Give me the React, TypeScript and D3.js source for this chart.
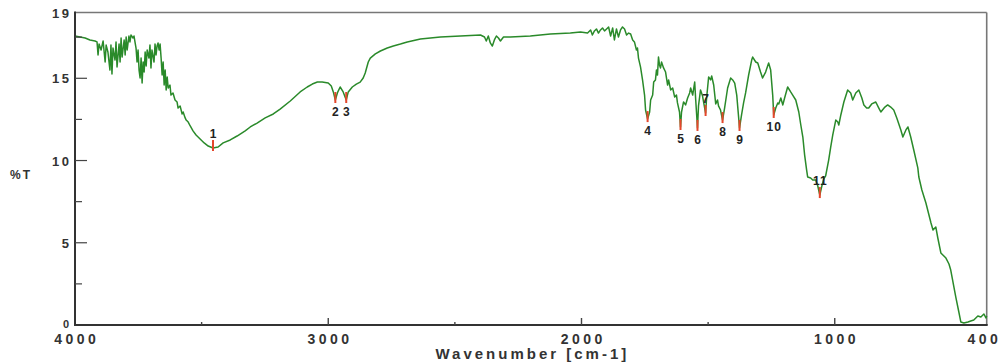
import React from "react";
import * as d3 from "d3";

// Wavenumber (cm-1) and %T
const wavenumbers = [
  4000, 3980, 3960, 3941, 3921, 3913, 3909, 3905, 3897, 3889, 3881, 3877, 3870, 3862, 3858, 3854, 3850, 3842, 3838, 3834,
  3826, 3822, 3818, 3814, 3806, 3802, 3798, 3794, 3787, 3783, 3779, 3771, 3767, 3759, 3755, 3751, 3747, 3743, 3739, 3735,
  3731, 3727, 3723, 3719, 3715, 3708, 3704, 3700, 3696, 3688, 3684, 3680, 3676, 3672, 3668, 3664, 3660, 3656, 3652, 3648,
  3644, 3640, 3636, 3632, 3625, 3621, 3613, 3605, 3597, 3593, 3585, 3577, 3573, 3565, 3561, 3553, 3545, 3534, 3522, 3506,
  3490, 3474, 3455, 3435, 3415, 3387, 3360, 3328, 3308, 3281, 3249, 3217, 3190, 3150, 3111, 3083, 3063, 3043, 3024, 3000,
  2988, 2980, 2972, 2964, 2953, 2941, 2929, 2921, 2905, 2889, 2874, 2862, 2854, 2842, 2834, 2814, 2794, 2767, 2743, 2715,
  2688, 2636, 2557, 2478, 2399, 2383, 2376, 2368, 2360, 2352, 2344, 2336, 2328, 2320, 2308, 2281, 2202, 2123, 2044, 2004,
  1976, 1964, 1957, 1949, 1941, 1933, 1925, 1917, 1909, 1901, 1893, 1885, 1877, 1870, 1862, 1854, 1846, 1838, 1830, 1822,
  1814, 1806, 1798, 1791, 1783, 1779, 1775, 1767, 1759, 1751, 1747, 1739, 1731, 1727, 1719, 1715, 1708, 1704, 1700, 1696,
  1692, 1688, 1684, 1676, 1668, 1660, 1656, 1648, 1640, 1632, 1625, 1621, 1613, 1609, 1605, 1597, 1589, 1581, 1573, 1569,
  1561, 1553, 1549, 1542, 1538, 1530, 1522, 1518, 1510, 1506, 1498, 1490, 1486, 1478, 1470, 1463, 1459, 1451, 1443, 1435,
  1423, 1411, 1403, 1395, 1387, 1376, 1368, 1360, 1352, 1340, 1328, 1324, 1312, 1304, 1293, 1285, 1273, 1261, 1253, 1245,
  1241, 1233, 1225, 1221, 1213, 1205, 1198, 1186, 1174, 1166, 1154, 1142, 1134, 1126, 1119, 1111, 1107, 1095, 1087, 1075,
  1067, 1059, 1051, 1043, 1036, 1024, 1016, 1008, 996, 988, 984, 976, 964, 949, 937, 929, 917, 905, 893, 885,
  874, 866, 854, 838, 826, 818, 802, 791, 779, 767, 755, 739, 731, 719, 711, 700, 688, 672, 668, 656,
  640, 620, 612, 601, 593, 581, 561, 549, 542, 522, 510, 502, 490, 474, 463, 451, 443, 435, 423, 411,
  403, 400,
];

const transmittance = [
  17.57, 17.51, 17.45, 17.33, 17.27, 17.21, 16.42, 17.08, 16.72, 17.27, 15.99, 17.02, 16.6, 15.5, 17.02, 15.26, 16.84, 16.11, 17.21, 15.69,
  17.08, 15.99, 17.45, 16.29, 17.33, 16.42, 17.51, 16.72, 17.57, 17.21, 17.63, 17.45, 17.57, 16.84, 15.99, 16.72, 15.5, 15.02, 16.23, 14.71,
  15.99, 15.38, 16.6, 15.75, 16.72, 16.23, 17.02, 15.63, 16.72, 15.99, 17.08, 16.42, 16.96, 17.15, 16.72, 17.08, 16.23, 15.2, 15.99, 14.59,
  15.5, 14.29, 15.08, 14.41, 14.59, 13.98, 14.11, 13.68, 13.56, 13.19, 13.32, 12.83, 12.95, 12.59, 12.46, 12.34, 12.1, 11.8, 11.55, 11.31,
  11.07, 10.88, 10.76, 10.82, 11.07, 11.25, 11.49, 11.8, 12.04, 12.28, 12.59, 12.83, 13.13, 13.62, 14.17, 14.47, 14.65, 14.77, 14.77, 14.71,
  14.53, 14.17, 13.68, 14.11, 14.47, 14.17, 13.68, 14.17, 14.47, 14.65, 14.77, 15.02, 15.32, 15.99, 16.23, 16.48, 16.66, 16.84, 16.96, 17.08,
  17.21, 17.39, 17.51, 17.57, 17.63, 17.51, 17.27, 17.57, 17.15, 16.96, 17.33, 17.57, 17.45, 17.27, 17.51, 17.51, 17.57, 17.69, 17.75, 17.81,
  17.75, 17.94, 17.63, 17.88, 18.0, 17.75, 17.94, 18.06, 17.88, 18.0, 18.12, 17.57, 18.06, 17.33, 18.0, 17.51, 17.94, 18.12, 18.0, 17.63,
  17.75, 17.69, 17.33, 17.21, 16.72, 16.84, 16.23, 15.69, 14.9, 13.98, 13.07, 12.52, 12.95, 13.68, 13.98, 14.77, 14.9, 15.5, 15.2, 16.29,
  15.81, 15.63, 15.99, 15.63, 15.38, 14.59, 14.9, 14.29, 14.41, 13.86, 13.98, 13.5, 12.95, 12.04, 12.95, 13.56, 13.38, 13.8, 14.11, 14.41,
  13.98, 14.77, 13.68, 11.98, 13.32, 14.29, 13.92, 13.56, 12.89, 13.8, 15.08, 14.9, 15.14, 14.59, 13.44, 13.68, 13.32, 13.07, 12.46, 13.19,
  14.41, 15.02, 14.9, 14.71, 13.98, 11.98, 12.77, 13.5, 14.11, 15.2, 16.11, 16.29, 15.99, 15.93, 15.38, 15.02, 15.38, 15.93, 15.5, 13.98,
  12.77, 13.19, 13.5, 13.44, 13.8, 13.38, 13.8, 14.47, 14.17, 13.98, 13.68, 12.95, 12.16, 11.43, 10.34, 9.42, 9.0, 8.94, 8.82, 8.82,
  8.45, 7.9, 8.45, 8.88, 9.06, 10.03, 10.82, 11.55, 12.46, 12.34, 12.16, 12.77, 13.56, 14.29, 14.11, 13.68, 14.11, 14.29, 13.8, 13.38,
  13.19, 13.19, 13.44, 13.56, 13.19, 12.95, 13.25, 13.38, 13.25, 13.07, 12.59, 11.86, 11.43, 11.86, 12.04, 11.43, 10.64, 9.55, 9.0, 8.21,
  7.42, 6.2, 5.78, 5.96, 5.29, 4.38, 4.07, 3.71, 3.34, 1.7, 0.79, 0.18, 0.12, 0.18, 0.24, 0.3, 0.43, 0.55, 0.49, 0.67,
  0.43, 0.55,
];

const peakNumbers = ["1", "2", "3", "4", "5", "6", "7", "8", "9", "10", "11"];
const peakWavenumbers = [3455, 2972, 2929, 1739, 1609, 1542, 1510, 1443, 1376, 1241, 1059];
const peakLabelSide = ["above", "below", "below", "below", "below", "below", "above", "below", "below", "below", "above"];

const xTicks = [4000, 3000, 2000, 1000, 400];
const xMinorTicks = [3500, 2500, 1500];
const yTicks = [0, 5, 10, 15, 19];
const yMinorTicks = [2.5, 7.5, 12.5, 17.5];

const W = 1005;
const H = 364;
const M = { left: 75, right: 986.7, top: 12.5, bottom: 325 };

export default function App() {
  const x = d3.scaleLinear().domain([4000, 400]).range([M.left, M.right]);
  const y = d3.scaleLinear().domain([0, 19]).range([M.bottom, M.top]);

  const pts: [number, number][] = wavenumbers.map((w, i) => [w, transmittance[i]]);
  const line = d3
    .line<[number, number]>()
    .x((d) => x(d[0]))
    .y((d) => y(d[1]));

  const peaks = peakWavenumbers.map((w, i) => {
    const idx = wavenumbers.indexOf(w);
    return { w, t: transmittance[idx], label: peakNumbers[i], side: peakLabelSide[i] };
  });

  const font = "'Liberation Sans', Arial, sans-serif";
  const textFill = "#333";

  return (
    <svg
      width={W}
      height={H}
      style={{ position: "absolute", left: 0, top: 0, background: "#fff" }}
      fontFamily={font}
    >
      <rect x={0} y={0} width={W} height={H} fill="#fff" />
      {/* frame top & right */}
      <line x1={M.left} y1={M.top} x2={M.right} y2={M.top} stroke="#777" strokeWidth={1.6} />
      <line x1={M.right} y1={M.top} x2={M.right} y2={M.bottom} stroke="#777" strokeWidth={1.6} />

      {/* spectrum */}
      <path d={line(pts) || ""} fill="none" stroke="#2a8a2a" strokeWidth={1.5} strokeLinejoin="round" />

      {/* peak markers */}
      {peaks.map((p) => (
        <line
          key={"m" + p.label}
          x1={x(p.w)}
          x2={x(p.w)}
          y1={y(p.t) - 8}
          y2={y(p.t) + 3}
          stroke="#e5462b"
          strokeWidth={2}
        />
      ))}
      {peaks.map((p) => {
        const ls = 1;
        const yy = p.side === "above" ? y(p.t) - 10 : y(p.t) + 16;
        return (
          <text
            key={"l" + p.label}
            x={x(p.w) + ls / 2}
            y={yy}
            textAnchor="middle"
            fontSize={12}
            fontWeight="bold"
            letterSpacing={ls}
            fill="#222"
          >
            {p.label}
          </text>
        );
      })}

      {/* axes left & bottom */}
      <line x1={M.left} y1={M.top - 1} x2={M.left} y2={M.bottom + 1} stroke="#333" strokeWidth={2} />
      <line x1={M.left - 1} y1={M.bottom} x2={M.right + 1} y2={M.bottom} stroke="#333" strokeWidth={2} />

      {/* y ticks */}
      {yTicks.map((t) => (
        <g key={"yt" + t}>
          {t !== 0 && t !== 19 && (
            <line x1={M.left} x2={M.left + 12} y1={y(t)} y2={y(t)} stroke="#444" strokeWidth={1.2} />
          )}
          <text
            x={69 + 2.5}
            y={t === 0 ? y(t) + 3 : y(t) + 5}
            textAnchor="end"
            fontSize={t === 0 ? 11 : 13}
            fontWeight="bold"
            letterSpacing={2.5}
            fill={textFill}
          >
            {t}
          </text>
        </g>
      ))}
      {yMinorTicks.map((t) => (
        <line key={"ym" + t} x1={M.left} x2={M.left + 7} y1={y(t)} y2={y(t)} stroke="#444" strokeWidth={1.2} />
      ))}

      {/* x ticks */}
      {xTicks.map((t) => (
        <g key={"xt" + t}>
          {t !== 4000 && t !== 400 && (
            <line x1={x(t)} x2={x(t)} y1={M.bottom} y2={M.bottom - 7} stroke="#444" strokeWidth={1.4} />
          )}
          <text
            x={(t === 400 ? x(t) - 4 : x(t)) + 1.75}
            y={344}
            textAnchor="middle"
            fontSize={14}
            fontWeight="bold"
            letterSpacing={3.5}
            fill={textFill}
          >
            {t}
          </text>
        </g>
      ))}
      {xMinorTicks.map((t) => (
        <line key={"xm" + t} x1={x(t)} x2={x(t)} y1={M.bottom} y2={M.bottom - 3} stroke="#444" strokeWidth={1.4} />
      ))}

      {/* axis titles */}
      <text
        x={(M.left + M.right) / 2 + 1.5}
        y={359}
        textAnchor="middle"
        fontSize={15}
        fontWeight="bold"
        letterSpacing={3}
        fill={textFill}
      >
        Wavenumber [cm-1]
      </text>
      <text x={10} y={179} fontSize={12} fontWeight="bold" letterSpacing={2} fill={textFill}>
        %T
      </text>
    </svg>
  );
}
